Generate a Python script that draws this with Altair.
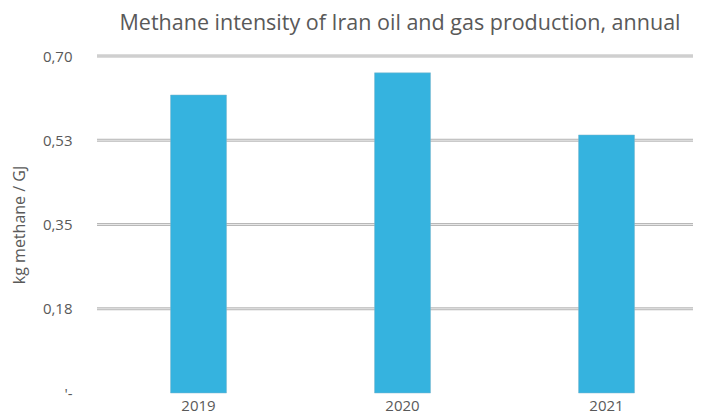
import altair as alt
import pandas as pd

years = ["2019", "2020", "2021"]
values = [0.619, 0.665, 0.536]
tick_values = [0.0, 0.175, 0.35, 0.525, 0.70]
grid_values = [0.175, 0.35, 0.525, 0.70]

bars_df = pd.DataFrame({"year": years, "value": values})
grid_df = pd.DataFrame({"v": grid_values})

FONT = "Open Sans"
GRAY = "#595959"

y_scale = alt.Scale(domain=[0, 0.70], nice=False, zero=True)

y_axis = alt.Axis(
    title="kg methane / GJ", values=tick_values, grid=False, domain=False, ticks=False,
    labelExpr="datum.value == 0 ? \"'-  \" : replace(format(datum.value + 0.000001, '.2f'), '.', ',')",
    labelFont=FONT, labelFontSize=15, labelColor=GRAY, labelPadding=25,
    titleFont=FONT, titleFontSize=16, titleFontWeight="normal", titleColor=GRAY,
    titlePadding=15,
)

grid_outer = alt.Chart(grid_df).mark_rule(color="#b8b8b8", strokeWidth=3).encode(
    y=alt.Y("v:Q", scale=y_scale, axis=y_axis)
)
grid_inner = alt.Chart(grid_df).mark_rule(color="#e6e6e6", strokeWidth=1).encode(
    y=alt.Y("v:Q", scale=y_scale, axis=y_axis)
)

bars = alt.Chart(bars_df).mark_bar(color="#35B3DF", stroke="#7fb7cc", strokeWidth=0.5).encode(
    x=alt.X(
        "year:N",
        sort=years,
        scale=alt.Scale(paddingInner=0.7255, paddingOuter=0.3235, align=0.557),
        axis=alt.Axis(
            title=None, labelAngle=0, domain=False, ticks=False,
            labelFont=FONT, labelFontSize=15, labelColor=GRAY, labelPadding=5,
        ),
    ),
    y=alt.Y("value:Q", scale=y_scale, axis=y_axis),
)

chart = alt.layer(grid_outer, grid_inner, bars).properties(
    width=596,
    height=337,
    padding={"left": 89, "top": 48, "right": 0, "bottom": 22},
    autosize="none",
    title=alt.TitleParams(
        "Methane intensity of Iran oil and gas production, annual",
        font=FONT, fontSize=21.5, fontWeight="normal", color=GRAY, offset=15,
        anchor="middle", dx=5,
    ),
).configure_view(stroke=None)

chart.save("out.html", embed_options={"renderer": "svg", "actions": False})
